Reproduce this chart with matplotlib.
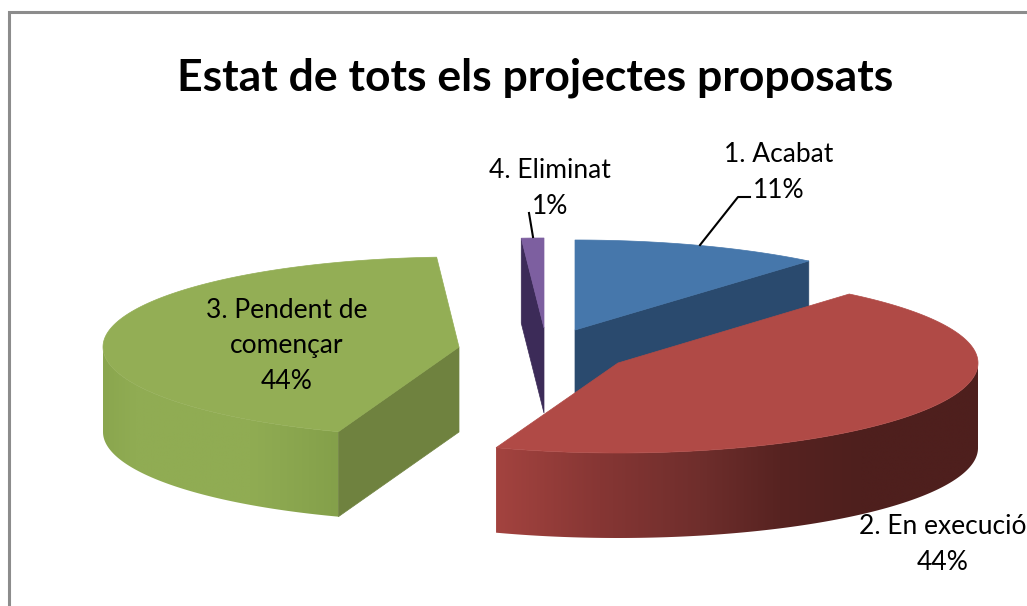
import numpy as np
import matplotlib
matplotlib.use("Agg")
import matplotlib.pyplot as plt
from matplotlib.patches import Polygon

# shares (labels round them to whole percents)
categories = ["1. Acabat", "2. En execució", "3. Pendent de\ncomençar", "4. Eliminat"]
shares = [11.1, 44.4, 43.5, 1.0]

TOP_COLORS = ["#4677ab", "#b04a46", "#93ae55", "#7d5fa0"]
CUT_COLORS = ["#2a4a6e", "#6a2c2a", "#6f823f", "#3c2b58"]

# pixel layout of the exploded slices
CENTERS = [(575, 330), (618, 363), (459, 347), (544, 328)]
RADII = [364, 360, 356, 362]
LABEL_POS = [(779, 155), (942.5, 527), (287, 310), (550, 171)]
RY, DEPTH = 90, 85


def rim(center, rx, t):
    """Point of the tilted pie rim at angle t (degrees clockwise from 12 o'clock)."""
    t = np.radians(t)
    return center[0] + rx * np.sin(t), center[1] - RY * np.cos(t)


def draw_side(ax, center, rx, t0, t1, stops):
    """Outer wall of a slice, a left to right gradient clipped to the wall shape."""
    xs, ys = rim(center, rx, np.linspace(t0, t1, 200))
    outline = np.c_[np.r_[xs, xs[::-1]], np.r_[ys, ys[::-1] + DEPTH]]
    patch = Polygon(outline, closed=True, facecolor="none", edgecolor="none", zorder=2)
    ax.add_patch(patch)
    x0, x1 = xs.min(), xs.max()
    grid = np.linspace(x0, x1, 400)
    stop_x = [s[0] for s in stops]
    stop_rgb = np.array([matplotlib.colors.to_rgb(s[1]) for s in stops])
    grad = np.stack([np.interp(grid, stop_x, stop_rgb[:, c]) for c in range(3)], axis=-1)[None, :, :]
    y0, y1 = ys.min() - 1, ys.max() + DEPTH + 1
    im = ax.imshow(grad, extent=(x0, x1, y1, y0), aspect="auto", interpolation="bilinear", zorder=2)
    im.set_clip_path(patch)


def draw_cut(ax, center, rx, t, color):
    x, y = rim(center, rx, t)
    cx, cy = center
    ax.fill([cx, x, x, cx], [cy, y, y + DEPTH, cy + DEPTH], color=color, lw=0.5, zorder=2)


def draw_top(ax, center, rx, t0, t1, color):
    xs, ys = rim(center, rx, np.linspace(t0, t1, 200))
    ax.fill(np.r_[center[0], xs], np.r_[center[1], ys], color=color, lw=0.5, zorder=2)


fig = plt.figure(figsize=(10.27, 6.06), dpi=100)
ax = fig.add_axes([0, 0, 1, 1])
ax.axis("off")

# outer chart frame runs off the right and bottom of the crop
ax.plot([8.5, 8.5, 1040], [620, 12, 12], color="#8c8c8c", lw=2.2, solid_joinstyle="miter", zorder=1)

edges = np.r_[0, np.cumsum(shares)] * 3.6

# purple sits at the back, then blue, green and red on top
draw_cut(ax, CENTERS[3], RADII[3], edges[3], CUT_COLORS[3])
draw_top(ax, CENTERS[3], RADII[3], edges[3], edges[4], TOP_COLORS[3])

draw_cut(ax, CENTERS[0], RADII[0], edges[1], CUT_COLORS[0])
draw_top(ax, CENTERS[0], RADII[0], edges[0], edges[1], TOP_COLORS[0])

draw_side(ax, CENTERS[2], RADII[2], edges[2], 270,
          [(103, "#8aa64e"), (135, "#90ac53"), (250, "#90ac53"), (338, "#84a04a")])
draw_cut(ax, CENTERS[2], RADII[2], edges[2], CUT_COLORS[2])
draw_top(ax, CENTERS[2], RADII[2], edges[2], edges[3], TOP_COLORS[2])

draw_side(ax, CENTERS[1], RADII[1], 90, edges[2],
          [(497, "#a3433f"), (600, "#863634"), (700, "#6f2e2c"), (780, "#572321"), (860, "#4e1f1d"), (980, "#4e1f1d")])
draw_top(ax, CENTERS[1], RADII[1], edges[1], edges[2], TOP_COLORS[1])

# leader lines
ax.plot([700, 738, 750], [245, 197, 197], color="black", lw=1.5, zorder=3)
ax.plot([533, 529], [237, 213], color="black", lw=1.5, zorder=3)

ax.text(535, 78, "Estat de tots els projectes proposats", family="Lato", fontsize=32,
        fontweight="bold", ha="center", va="center", color="black")

for name, share, (x, y) in zip(categories, shares, LABEL_POS):
    lines = name.split("\n") + [f"{round(share)}%"]
    for i, line in enumerate(lines):
        ax.text(x, y + i * 35.7, line, family="Lato", fontsize=19, ha="center", va="center",
                color="black", zorder=4)

ax.set_xlim(0, 1027)
ax.set_ylim(606, 0)

fig.savefig("out.png", dpi=100)
